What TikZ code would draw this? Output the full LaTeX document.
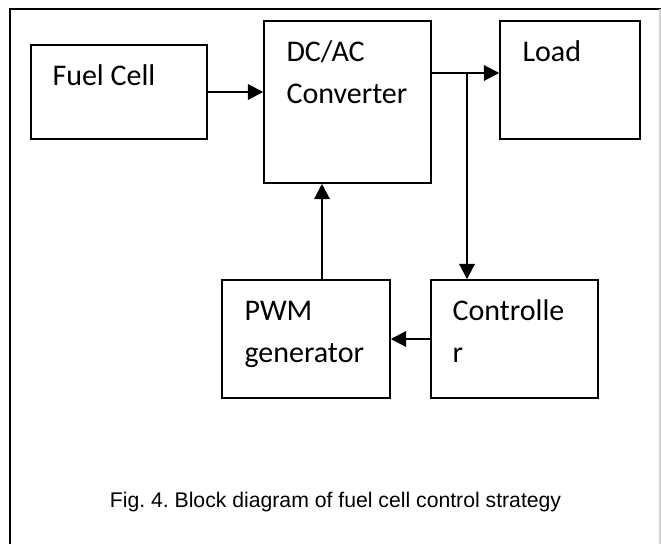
\documentclass[tikz,border=0pt]{standalone}
\usepackage{fontspec}
\setmainfont{Carlito}
\newfontfamily\capfont{Liberation Sans}
\usetikzlibrary{arrows.meta}
\frenchspacing

\begin{document}
\begin{tikzpicture}[x=0.75pt, y=-0.75pt,
  font=\fontsize{22.5pt}{31.5pt}\selectfont,
  >={Triangle[length=11.5pt, width=11.5pt]},
  block/.style={draw, line width=1.1pt, inner sep=0pt},
  blocktext/.style={anchor=base west, align=left, inner sep=0pt},
  flow/.style={->, line width=1.6pt}]

\useasboundingbox (0,0) rectangle (661,544);

% page frame
\draw[line width=1.2pt] (10,544) -- (10,9) -- (661,9);
\draw[gray!35, line width=0.8pt] (660,9) -- (660,544);

\node[block, minimum width=132pt, minimum height=70.5pt] (fc) at (119,92) {};
\node[block, minimum width=125.25pt, minimum height=121.5pt] (conv) at (347.5,102) {};
\node[block, minimum width=105pt, minimum height=88.5pt] (load) at (570,80) {};
\node[block, minimum width=126pt, minimum height=88.5pt] (pwm) at (306,339) {};
\node[block, minimum width=125.25pt, minimum height=88.5pt] (ctrl) at (514.5,339) {};

% base of the last line: two-line labels sit one line lower
\node[blocktext] (fctext) at ([shift={(22,41)}]fc.north west) {Fuel Cell};
\node[blocktext] (convtext) at ([shift={(23,83)}]conv.north west) {DC/AC\\Converter};
\node[blocktext] (loadtext) at ([shift={(23,41)}]load.north west) {Load};
\node[blocktext] (pwmtext) at ([shift={(23,83)}]pwm.north west) {PWM\\generator};
\node[blocktext] (ctrltext) at ([shift={(22,83)}]ctrl.north west) {Controlle\\r};

\coordinate (split) at (467,73);
\coordinate (fb) at (322,280);

\draw[flow] (fc.east) -- (fc.east -| conv.west);
\draw[flow] (split -| conv.east) -- (split -| load.west);
\draw[flow] (split) -- (split |- ctrl.north);
\draw[flow] (ctrl.west) -- (ctrl.west -| pwm.east);
\draw[flow] (fb) -- (fb |- conv.south);

\node[font=\capfont\fontsize{15.9pt}{19pt}\selectfont, anchor=base] (caption) at (335.5,507)
  {Fig. 4. Block diagram of fuel cell control strategy};

\end{tikzpicture}
\end{document}
